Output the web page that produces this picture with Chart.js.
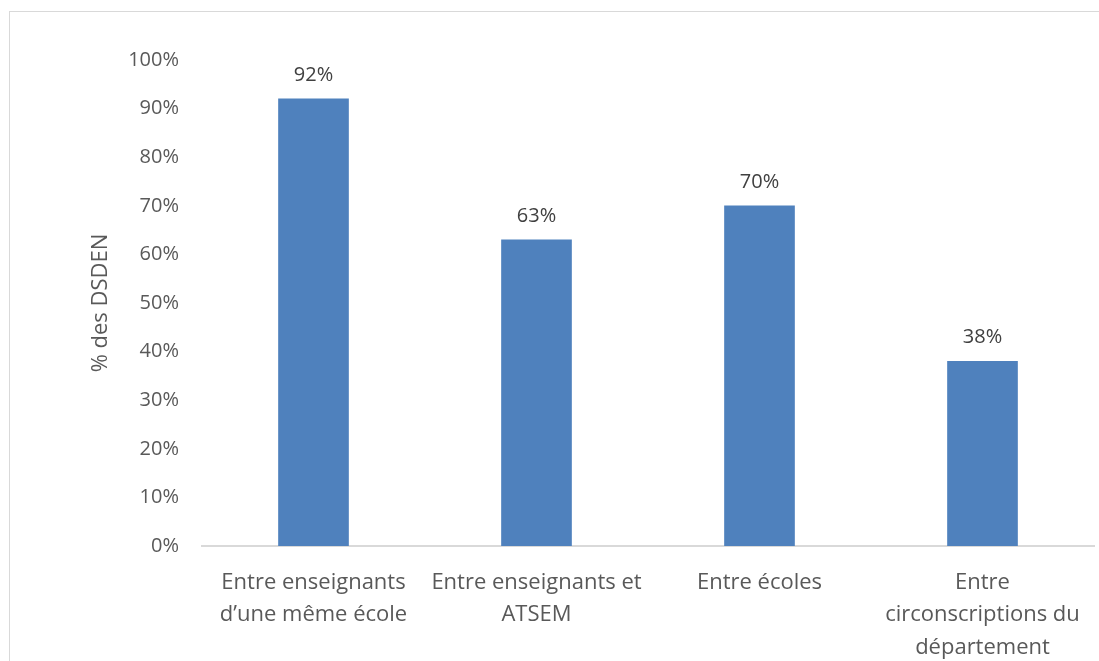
<!DOCTYPE html>
<html>
<head>
<meta charset="utf-8">
<script src="https://cdn.jsdelivr.net/npm/chart.js@4/dist/chart.umd.min.js"></script>
<style>
  html, body { margin: 0; padding: 0; background: #fff; }
  #wrap { position: relative; width: 1099px; height: 661px; overflow: hidden; }
  #frame { position: absolute; left: 9px; top: 11px; width: 1200px; height: 700px;
           border-left: 1px solid #d9d9d9; border-top: 1px solid #d9d9d9; }
  canvas { position: absolute; left: 0; top: 0; }
</style>
</head>
<body>
<div id="wrap">
  <div id="frame"></div>
  <canvas id="chart" width="1099" height="661"></canvas>
</div>
<script>
// categories and shares (% of DSDEN)
const categories = [
    ['Entre enseignants', 'd\u2019une même école'],
    ['Entre enseignants et', 'ATSEM'],
    'Entre écoles',
    ['Entre', 'circonscriptions du', 'département']
];
const shares = [92, 63, 70, 38];
const yTicks = [0, 10, 20, 30, 40, 50, 60, 70, 80, 90, 100];

const fontFamily = '"Open Sans", sans-serif';

// draws the value above each bar
const valueLabels = {
    id: 'valueLabels',
    afterDatasetsDraw(chart) {
        const ctx = chart.ctx;
        const meta = chart.getDatasetMeta(0);
        ctx.save();
        ctx.font = '20px ' + fontFamily;
        ctx.fillStyle = '#404040';
        ctx.textAlign = 'center';
        ctx.textBaseline = 'middle';
        meta.data.forEach((bar, i) => {
            ctx.fillText(shares[i] + '%', bar.x, bar.y - 24);
        });
        ctx.restore();
    }
};

const ctx = document.getElementById('chart').getContext('2d');
new Chart(ctx, {
    type: 'bar',
    data: {
        labels: categories,
        datasets: [{
            data: shares,
            backgroundColor: '#4f81bd',
            borderWidth: 0,
            barThickness: 70
        }]
    },
    options: {
        responsive: false,
        animation: false,
        layout: { padding: { top: 60, right: 5, left: 0, bottom: 0 } },
        plugins: {
            legend: { display: false },
            tooltip: { enabled: false }
        },
        scales: {
            x: {
                grid: { display: false },
                border: { display: true, color: '#d9d9d9', width: 2 },
                ticks: {
                    color: '#595959',
                    font: { family: fontFamily, size: 22, lineHeight: 1.46 },
                    maxRotation: 0,
                    autoSkip: false,
                    padding: 13
                },
                afterFit(axis) { axis.height = 115; }
            },
            y: {
                min: 0,
                max: 100,
                grid: { display: false },
                border: { display: false },
                afterBuildTicks(axis) { axis.ticks = yTicks.map(v => ({ value: v })); },
                ticks: {
                    color: '#595959',
                    font: { family: fontFamily, size: 20 },
                    padding: 15,
                    callback: v => v + '%'
                },
                title: {
                    display: true,
                    text: '% des DSDEN',
                    color: '#595959',
                    font: { family: fontFamily, size: 22 },
                    padding: { top: 88, bottom: 0 }
                },
                afterFit(axis) { axis.width = 202; }
            }
        }
    },
    plugins: [valueLabels]
});
</script>
</body>
</html>
